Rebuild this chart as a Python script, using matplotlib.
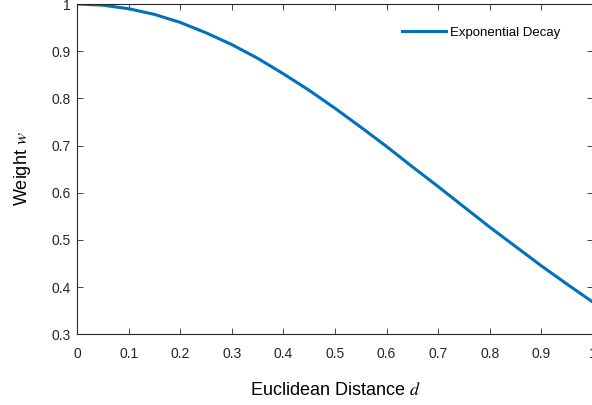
import matplotlib
matplotlib.use("Agg")
import matplotlib.pyplot as plt

distance = [0.0, 0.05, 0.1, 0.15, 0.2, 0.25, 0.3, 0.35, 0.4, 0.45, 0.5,
            0.55, 0.6, 0.65, 0.7, 0.75, 0.8, 0.85, 0.9, 0.95, 1.0]
weight = [1.0, 0.9975, 0.990, 0.978, 0.961, 0.939, 0.914, 0.885, 0.852, 0.817, 0.779,
          0.739, 0.698, 0.655, 0.613, 0.570, 0.527, 0.486, 0.445, 0.406, 0.368]
series_label = "Exponential Decay"
x_ticks = [0, 0.1, 0.2, 0.3, 0.4, 0.5, 0.6, 0.7, 0.8, 0.9, 1]
x_ticklabels = ["0", "0.1", "0.2", "0.3", "0.4", "0.5", "0.6", "0.7", "0.8", "0.9", "1"]
y_ticks = [0.3, 0.4, 0.5, 0.6, 0.7, 0.8, 0.9, 1.0]
y_ticklabels = ["0.3", "0.4", "0.5", "0.6", "0.7", "0.8", "0.9", "1"]

plt.rcParams['font.family'] = ['Liberation Sans', 'DejaVu Sans']
plt.rcParams['mathtext.fontset'] = 'stix'

fig = plt.figure(figsize=(5.92, 4.05), dpi=100)
ax = fig.add_axes([77/592, (405-334.3)/405, (593-77)/592, (334.3-4)/405])

ax.plot(distance, weight, color='#0072BD', linewidth=2.2, label=series_label)

ax.set_xlim(0, 1)
ax.set_ylim(0.3, 1.0)
ax.set_xticks(x_ticks)
ax.set_xticklabels(x_ticklabels)
ax.set_yticks(y_ticks)
ax.set_yticklabels(y_ticklabels)

ax.tick_params(direction='in', length=4, width=0.6, colors='#262626',
               labelsize=10, top=True, right=True)
ax.tick_params(axis='x', pad=9)
ax.tick_params(axis='y', pad=4.5)
for s in ax.spines.values():
    s.set_linewidth(0.8)
    s.set_color('#262626')

ax.set_xlabel("Euclidean Distance $d$", fontsize=13, labelpad=15)
ax.set_ylabel("Weight $w$", fontsize=13, labelpad=13)

leg = ax.legend(loc='upper right', bbox_to_anchor=(0.946, 0.948), frameon=False,
                fontsize=9.5, handlelength=3.3, handletextpad=0.3, borderaxespad=0)

fig.savefig("out.png", dpi=100)
